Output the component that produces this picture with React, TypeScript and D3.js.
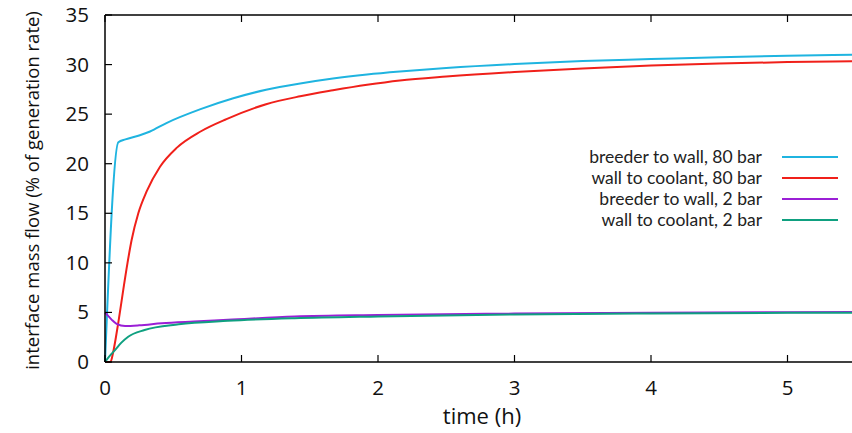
import React from "react";
import * as d3 from "d3";

const seriesNames = [
  "breeder to wall, 80 bar",
  "wall to coolant, 80 bar",
  "breeder to wall, 2 bar",
  "wall to coolant, 2 bar",
];
const seriesColors = ["#1fb4e0", "#f0201a", "#9b1fd6", "#0fa080"];

const breederWall80T = [0, 0.098, 0.15, 0.25, 0.33, 0.45, 0.7, 0.94, 1.18, 1.43, 1.67, 1.92, 2.16, 2.5, 3, 3.5, 4, 4.5, 5, 5.5, 6];
const breederWall80V = [0, 22.17, 22.45, 22.85, 23.25, 24.1, 25.5, 26.6, 27.46, 28.1, 28.6, 29.0, 29.3, 29.65, 30.05, 30.35, 30.55, 30.75, 30.9, 31.0, 31.1];

const wallCoolant80T = [0, 0.04, 0.06, 0.08, 0.1, 0.134, 0.165, 0.195, 0.244, 0.305, 0.403, 0.525, 0.7, 0.89, 1.18, 1.43, 1.67, 1.92, 2.16, 2.5, 3, 3.5, 4, 4.5, 5, 5.5, 6];
const wallCoolant80V = [0, 0, 1.0, 2.5, 4.2, 7.3, 10, 12.3, 15, 17.2, 19.7, 21.6, 23.25, 24.5, 26.0, 26.8, 27.4, 27.96, 28.4, 28.8, 29.25, 29.6, 29.9, 30.1, 30.25, 30.35, 30.45];

const breederWall2T = [0, 0.02, 0.05, 0.085, 0.147, 0.25, 0.415, 0.65, 0.9, 1.39, 2, 3, 4, 5, 6];
const breederWall2V = [5.0, 4.7, 4.25, 3.85, 3.64, 3.7, 3.9, 4.08, 4.25, 4.6, 4.75, 4.88, 4.97, 5.02, 5.05];

const wallCoolant2T = [0, 0.03, 0.073, 0.12, 0.17, 0.29, 0.54, 0.9, 1.39, 2, 3, 4, 5, 6];
const wallCoolant2V = [0, 0.55, 1.2, 1.95, 2.55, 3.23, 3.8, 4.15, 4.42, 4.6, 4.8, 4.9, 4.96, 5.0];

const xTicks = [0, 1, 2, 3, 4, 5];
const yTicks = [0, 5, 10, 15, 20, 25, 30, 35];

const seriesT = [breederWall80T, wallCoolant80T, breederWall2T, wallCoolant2T];
const seriesV = [breederWall80V, wallCoolant80V, breederWall2V, wallCoolant2V];

export default function App() {
  const W = 852;
  const H = 433;
  const left = 105;
  const top = 15;
  const bottom = 362;
  const x = d3.scaleLinear().domain([0, 6]).range([left, left + 6 * 136.5]);
  const y = d3.scaleLinear().domain([0, 35]).range([bottom, top]);
  const line = d3
    .line<[number, number]>()
    .x((d) => x(d[0]))
    .y((d) => y(d[1]))
    .curve(d3.curveMonotoneX);

  const tickFont = "'Open Sans', 'DejaVu Sans', sans-serif";
  const legendY = [157, 178, 199, 220];

  return (
    <svg
      width={W}
      height={H}
      style={{ position: "absolute", left: 0, top: 0, background: "#fff" }}
    >
      <rect x={0} y={0} width={W} height={H} fill="#fff" />
      {seriesT.map((ts, i) => (
        <path
          key={i}
          d={line(ts.map((t, j) => [t, seriesV[i][j]] as [number, number])) || ""}
          fill="none"
          stroke={seriesColors[i]}
          strokeWidth={2}
        />
      ))}
      <line x1={left} x2={x(6)} y1={top} y2={top} stroke="#000" strokeWidth={1.5} />
      <line x1={left} x2={x(6)} y1={bottom} y2={bottom} stroke="#000" strokeWidth={1.5} />
      <line x1={left} x2={left} y1={top} y2={bottom} stroke="#000" strokeWidth={1.5} />
      {xTicks.map((t) => (
        <g key={"x" + t}>
          <line x1={x(t)} x2={x(t)} y1={bottom} y2={bottom - 7} stroke="#000" strokeWidth={1.2} />
          <line x1={x(t)} x2={x(t)} y1={top} y2={top + 7} stroke="#000" strokeWidth={1.2} />
          <text
            x={x(t)}
            y={395}
            textAnchor="middle"
            fontFamily={tickFont}
            fontSize={20.5}
            fill="#111"
          >
            {t}
          </text>
        </g>
      ))}
      {yTicks.map((v) => (
        <g key={"y" + v}>
          <line x1={left} x2={left + 7} y1={y(v)} y2={y(v)} stroke="#000" strokeWidth={1.2} />
          <text
            x={89}
            y={y(v) + 7}
            textAnchor="end"
            fontFamily={tickFont}
            fontSize={20.5}
            fill="#111"
          >
            {v}
          </text>
        </g>
      ))}
      <text
        x={482}
        y={424}
        textAnchor="middle"
        fontFamily={tickFont}
        fontSize={22}
        fill="#111"
      >
        time (h)
      </text>
      <text
        transform={`translate(39, ${(top + bottom) / 2 + 2}) rotate(-90)`}
        textAnchor="middle"
        fontFamily={tickFont}
        fontSize={18.5}
        fill="#111"
      >
        interface mass flow (% of generation rate)
      </text>
      {seriesNames.map((n, i) => (
        <g key={n}>
          <text
            x={762}
            y={legendY[i] + 6}
            textAnchor="end"
            fontFamily="Lato, sans-serif"
            fontSize={17.5}
            fill="#222"
          >
            {n}
          </text>
          <line
            x1={782}
            x2={838}
            y1={legendY[i]}
            y2={legendY[i]}
            stroke={seriesColors[i]}
            strokeWidth={2}
          />
        </g>
      ))}
    </svg>
  );
}
